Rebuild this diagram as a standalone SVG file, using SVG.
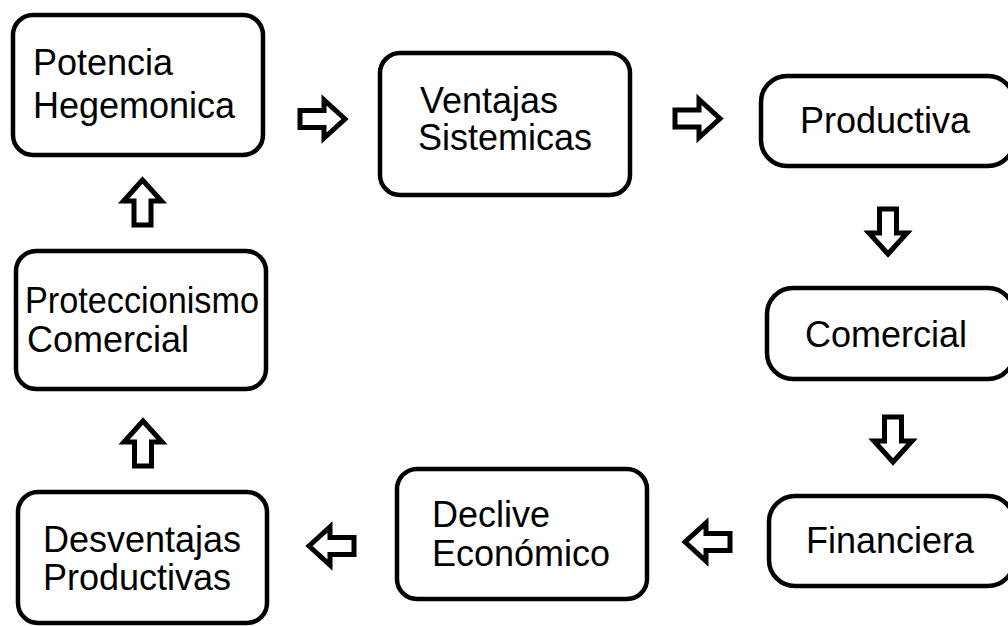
<svg xmlns="http://www.w3.org/2000/svg" width="1008" height="626" viewBox="0 0 1008 626">
<style>
.box{fill:#fff;stroke:#000;stroke-width:4.5}
.t{font-family:"Liberation Sans",Arial,sans-serif;font-size:36px;fill:#000}
.arr{fill:#fff;stroke:#000;stroke-width:5;stroke-linejoin:miter;stroke-miterlimit:10}
</style>
<defs>
<path id="a" d="M0,0 L-21,-19 L-21,-8.5 L-45,-8.5 L-45,8.5 L-21,8.5 L-21,19 Z"/>
</defs>
<rect width="1008" height="626" fill="#fff"/>
<g id="potencia"><rect class="box" x="13" y="15" width="250" height="140" rx="20"/><text class="t" x="33" y="75">Potencia</text><text class="t" x="33" y="118">Hegemonica</text></g>
<g id="ventajas"><rect class="box" x="380" y="53" width="250" height="142" rx="20"/><text class="t" x="420" y="113">Ventajas</text><text class="t" x="418" y="150">Sistemicas</text></g>
<g id="productiva"><rect class="box" x="761" y="76" width="253" height="90" rx="26"/><text class="t" x="800" y="133">Productiva</text></g>
<g id="comercial"><rect class="box" x="767" y="288" width="247" height="91" rx="26"/><text class="t" x="805" y="347">Comercial</text></g>
<g id="financiera"><rect class="box" x="769" y="496" width="245" height="90" rx="26"/><text class="t" x="806" y="553">Financiera</text></g>
<g id="declive"><rect class="box" x="397" y="469" width="250" height="130" rx="20"/><text class="t" x="432" y="527">Declive</text><text class="t" x="432" y="566">Económico</text></g>
<g id="desventajas"><rect class="box" x="18" y="492" width="249" height="131" rx="20"/><text class="t" x="43" y="552">Desventajas</text><text class="t" x="43" y="590">Productivas</text></g>
<g id="proteccionismo"><rect class="box" x="16" y="251" width="250" height="138" rx="20"/><text class="t" x="25" y="313" textLength="234" lengthAdjust="spacingAndGlyphs">Proteccionismo</text><text class="t" x="27" y="352">Comercial</text></g>
<g id="connectors">
<use href="#a" class="arr" transform="translate(345,119)"/>
<use href="#a" class="arr" transform="translate(720,118.5)"/>
<use href="#a" class="arr" transform="translate(888,254) rotate(90)"/>
<use href="#a" class="arr" transform="translate(893,462) rotate(90)"/>
<use href="#a" class="arr" transform="translate(685,542) rotate(180)"/>
<use href="#a" class="arr" transform="translate(309,546) rotate(180)"/>
<use href="#a" class="arr" transform="translate(143,421) rotate(-90)"/>
<use href="#a" class="arr" transform="translate(142.5,180) rotate(-90)"/>
</g>
</svg>
